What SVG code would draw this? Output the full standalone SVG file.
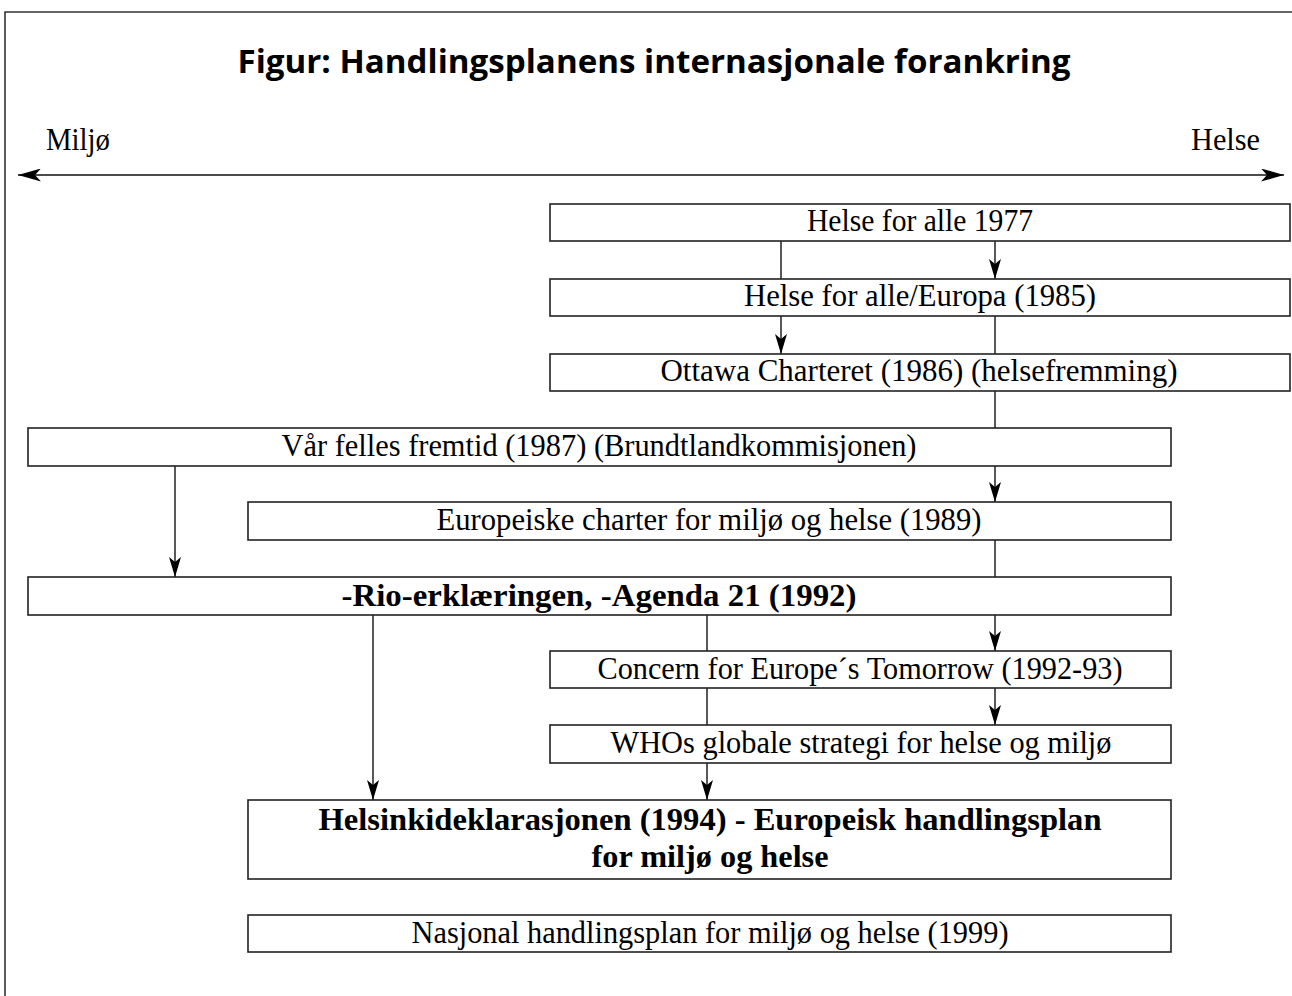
<svg xmlns="http://www.w3.org/2000/svg" width="1292" height="996" viewBox="0 0 1292 996">
<style>
.box{fill:#fff;stroke:#222;stroke-width:1.6}
.t{font-family:"Liberation Serif","Times New Roman",serif;font-size:31px;fill:#000;text-anchor:middle}
.b{font-weight:bold}
.c{stroke:#111;stroke-width:1.4;fill:none}
.ca{stroke:#111;stroke-width:1.4;fill:none;marker-end:url(#ah)}
</style>
<defs>
<marker id="ah" viewBox="0 0 20 12" refX="20" refY="6" markerWidth="20" markerHeight="12" orient="auto" markerUnits="userSpaceOnUse">
<path d="M0,0 L20,6 L0,12 L5,6 z" fill="#000"/>
</marker>
<marker id="ah2" viewBox="0 0 23 13" refX="23" refY="6.5" markerWidth="23" markerHeight="13" orient="auto-start-reverse" markerUnits="userSpaceOnUse">
<path d="M0,0 L23,6.5 L0,13 L6,6.5 z" fill="#000"/>
</marker>
</defs>
<rect width="1292" height="996" fill="#fff"/>
<path d="M5,996 L5,12 L1292,12" fill="none" stroke="#333" stroke-width="1.6"/>
<text x="654" y="73" font-family="'Open Sans','Liberation Sans',sans-serif" font-weight="bold" font-size="33" text-anchor="middle" textLength="833" lengthAdjust="spacingAndGlyphs">Figur: Handlingsplanens internasjonale forankring</text>
<text class="t" x="46" y="150" style="text-anchor:start" textLength="64" lengthAdjust="spacingAndGlyphs">Miljø</text>
<text class="t" x="1260" y="150" style="text-anchor:end" textLength="69" lengthAdjust="spacingAndGlyphs">Helse</text>
<g id="connectors">
<line x1="18" y1="175" x2="1284" y2="175" stroke="#111" stroke-width="1.4" marker-start="url(#ah2)" marker-end="url(#ah2)"/>
<line class="c" x1="781" y1="241" x2="781" y2="279"/>
<line class="ca" x1="995" y1="241" x2="995" y2="279"/>
<line class="ca" x1="781" y1="316" x2="781" y2="354"/>
<line class="c" x1="995" y1="316" x2="995" y2="354"/>
<line class="c" x1="995" y1="391" x2="995" y2="428"/>
<line class="ca" x1="995" y1="466" x2="995" y2="502"/>
<line class="ca" x1="175" y1="466" x2="175" y2="577"/>
<line class="c" x1="995" y1="540" x2="995" y2="577"/>
<line class="c" x1="707" y1="615" x2="707" y2="651"/>
<line class="ca" x1="995" y1="615" x2="995" y2="651"/>
<line class="c" x1="707" y1="688" x2="707" y2="725"/>
<line class="ca" x1="995" y1="688" x2="995" y2="725"/>
<line class="ca" x1="373" y1="615" x2="373" y2="800"/>
<line class="ca" x1="707" y1="763" x2="707" y2="800"/>
</g>
<g id="n1"><rect class="box" x="550" y="204" width="740" height="37"/><text class="t" x="920" y="231" textLength="226" lengthAdjust="spacingAndGlyphs">Helse for alle 1977</text></g>
<g id="n2"><rect class="box" x="550" y="279" width="740" height="37"/><text class="t" x="920" y="306" textLength="352" lengthAdjust="spacingAndGlyphs">Helse for alle/Europa (1985)</text></g>
<g id="n3"><rect class="box" x="550" y="354" width="740" height="37"/><text class="t" x="919" y="381" textLength="517" lengthAdjust="spacingAndGlyphs">Ottawa Charteret (1986)  (helsefremming)</text></g>
<g id="n4"><rect class="box" x="28" y="428" width="1143" height="38"/><text class="t" x="599" y="456" textLength="635" lengthAdjust="spacingAndGlyphs">Vår felles fremtid (1987)  (Brundtlandkommisjonen)</text></g>
<g id="n5"><rect class="box" x="248" y="502" width="923" height="38"/><text class="t" x="709" y="530" textLength="545" lengthAdjust="spacingAndGlyphs">Europeiske charter for miljø og helse (1989)</text></g>
<g id="n6"><rect class="box" x="28" y="577" width="1143" height="38"/><text class="t b" x="599" y="606" textLength="515" lengthAdjust="spacingAndGlyphs">-Rio-erklæringen, -Agenda 21 (1992)</text></g>
<g id="n7"><rect class="box" x="550" y="651" width="621" height="37"/><text class="t" x="860" y="679" textLength="525" lengthAdjust="spacingAndGlyphs">Concern for Europe´s Tomorrow (1992-93)</text></g>
<g id="n8"><rect class="box" x="550" y="725" width="621" height="38"/><text class="t" x="861" y="753" textLength="501" lengthAdjust="spacingAndGlyphs">WHOs globale strategi for helse og miljø</text></g>
<g id="n9"><rect class="box" x="248" y="800" width="923" height="79"/><text class="t b" x="710" y="830" textLength="783" lengthAdjust="spacingAndGlyphs">Helsinkideklarasjonen (1994) - Europeisk handlingsplan</text><text class="t b" x="710" y="867" textLength="237" lengthAdjust="spacingAndGlyphs">for miljø og helse</text></g>
<g id="n10"><rect class="box" x="248" y="915" width="923" height="37"/><text class="t" x="710" y="943" textLength="597" lengthAdjust="spacingAndGlyphs">Nasjonal handlingsplan for miljø og helse (1999)</text></g>
</svg>
